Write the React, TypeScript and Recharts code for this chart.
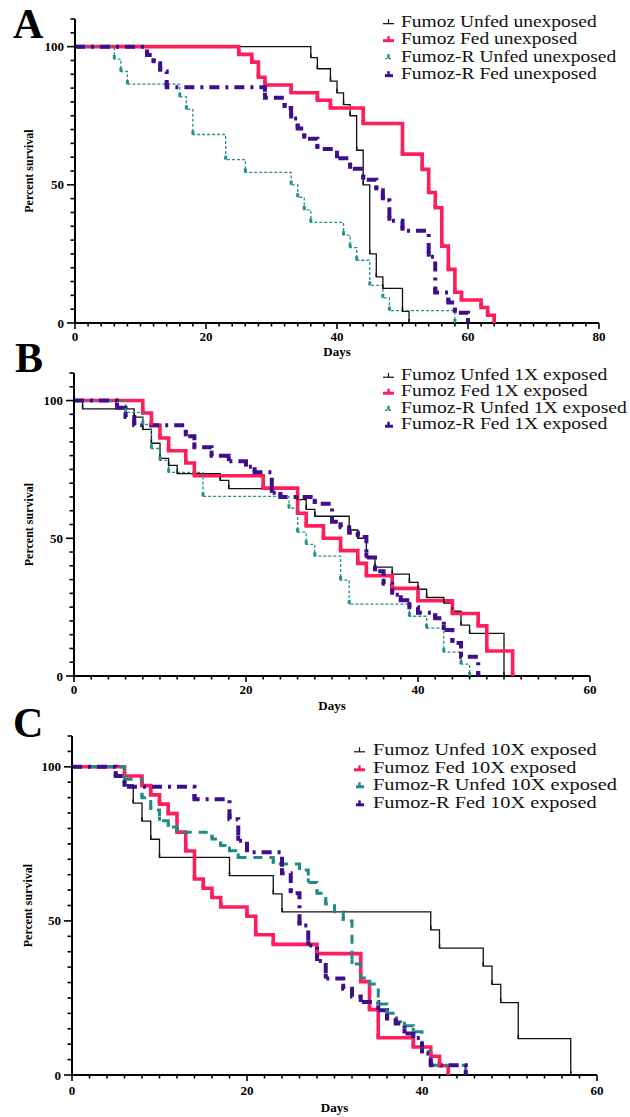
import React from 'react';
import { LineChart, Line, XAxis, YAxis, Legend } from 'recharts';

type Pt = [number, number];

// ---------- Panel A : unexposed (day, percent survival) ----------
const A_FUMOZ_UNFED: Pt[] = [[0,100],[36,96],[37,92],[39,87.5],[40,83.3],[41,79],[42,75],[43,62.5],[44,50],[45,25],[46,16.7],[47,12.5],[50,4.2],[51,0]];
const A_FUMOZ_FED: Pt[] = [[0,100],[25,97.2],[27,94.4],[28,88.9],[29,86.1],[33,83.3],[37,80.6],[39,77.8],[44,72.2],[50,61.1],[53,55.6],[54,47.2],[55,41.7],[56,27.8],[57,19.4],[58,11.1],[59,8.3],[62,5.6],[63,2.8],[64,0]];
const A_FUMOZR_UNFED: Pt[] = [[0,100],[6,95.5],[7,91],[8,86.4],[16,81.8],[17,77.3],[18,68.2],[23,59.1],[26,54.5],[33,50],[34,45.5],[35,40.9],[36,36.4],[41,31.8],[42,27.3],[43,22.7],[45,13.6],[47,9.1],[48,4.5],[58,0]];
const A_FUMOZR_FED: Pt[] = [[0,100],[11,97],[12,94],[13,91],[14,85.3],[29,81.5],[32,77.8],[33,74],[34,70.4],[35,66.7],[37,63],[40,59.6],[42,55.8],[44,51.8],[46,48],[47,44.4],[48,37],[50,33.4],[54,24],[55,11],[57,7.4],[58,3.7],[60,0]];

// ---------- Panel B : 1X exposed ----------
const B_FUMOZ_UNFED: Pt[] = [[0,100],[1,97],[7,94],[8,89.5],[9,84.5],[10,79],[11,76.5],[12,73.5],[17,71],[18,68],[26,64],[27,60.5],[28,58],[32,53],[33,50],[34,43],[35,39.5],[37,37],[39,34],[40,31.5],[41,28.5],[43,26.5],[44,23.5],[45,18.5],[46,15.5],[50,0]];
const B_FUMOZ_FED: Pt[] = [[0,100],[8,95.5],[9,91],[10,86.4],[11,81.8],[13,77.3],[14,72.7],[22,68.2],[26,59.1],[27,54.5],[29,50],[31,45.5],[33,40.9],[34,36.4],[37,31.8],[40,27.3],[44,22.7],[47,18.2],[48,9.1],[51,0]];
const B_FUMOZR_UNFED: Pt[] = [[0,100],[6,95.7],[8,91.3],[9,82.6],[10,78.3],[11,73.9],[15,65.2],[25,60.9],[26,52.2],[27,47.8],[28,43.5],[31,34.8],[32,26.1],[39,21.7],[41,17.4],[43,8.7],[45,4.3],[46,0]];
const B_FUMOZR_FED: Pt[] = [[0,100],[5,97.4],[6,94],[7,91],[13,87],[14,83],[16,80],[18,78],[20,76],[21,74],[23,66.5],[24,65],[28,62.5],[30,56],[31,54],[32,52],[33,50.5],[34,43],[35,38],[36,33.5],[37,29.5],[38,27.5],[39,25],[40,23],[42,21],[43,16.7],[44,12],[45,7],[47,0]];

// ---------- Panel C : 10X exposed ----------
const C_FUMOZ_UNFED: Pt[] = [[0,100],[6,94.1],[7,88.2],[8,82.4],[9,76.5],[10,70.6],[18,64.7],[23,58.8],[24,52.9],[41,47.1],[42,41.2],[47,35.3],[48,29.4],[49,23.5],[51,11.8],[57,0]];
const C_FUMOZ_FED: Pt[] = [[0,100],[6,97],[8,93.9],[9,90.9],[10,87.9],[11,84.8],[12,78.8],[13,72.7],[14,63.6],[15,60.6],[16,57.6],[17,54.5],[20,51.5],[21,45.5],[23,42.4],[28,39.4],[33,30.3],[34,21.2],[35,12.1],[39,9.1],[41,6.1],[42,3],[43,0]];
const C_FUMOZR_UNFED: Pt[] = [[0,100],[6,96],[8,90],[9,86],[10,82.5],[11,80.5],[12,78.8],[16,76.6],[17,74.5],[18,72.8],[19,70.6],[23,68.5],[26,66.5],[27,62.5],[28,59],[29,55.5],[30,53],[31,50],[32,36],[33,31.5],[34,29.5],[35,23],[36,20],[37,17.3],[38,16],[39,14],[40,7.6],[41,3.2],[45,0]];
const C_FUMOZR_FED: Pt[] = [[0,100],[5,97],[6,93.5],[14,89.5],[18,83],[19,76],[20,72.3],[24,65.5],[25,59],[26,48.5],[27,42],[28,37],[29,31.3],[31,28],[32,25.5],[33,23.7],[35,21],[36,18.3],[37,16.7],[38,13.5],[39,12],[40,7],[41,3.2],[45,0]];

// ---------- names / tick labels ----------
const NAMES_A = ['Fumoz Unfed unexposed', 'Fumoz Fed unexposed', 'Fumoz-R Unfed unexposed', 'Fumoz-R Fed unexposed'];
const NAMES_B = ['Fumoz Unfed 1X exposed', 'Fumoz Fed 1X exposed', 'Fumoz-R Unfed 1X exposed', 'Fumoz-R Fed 1X exposed'];
const NAMES_C = ['Fumoz Unfed 10X exposed', 'Fumoz Fed 10X exposed', 'Fumoz-R Unfed 10X exposed', 'Fumoz-R Fed 10X exposed'];
const X_LABELS_A = [0, 20, 40, 60, 80];
const X_LABELS_BC = [0, 20, 40, 60];
const Y_LABELS = [0, 50, 100];
const Y_MAX = 110;

const range = (max: number, step: number) => {
  const out: number[] = [];
  for (let v = 0; v <= max + 1e-9; v += step) out.push(v);
  return out;
};

const SERIF = '"Liberation Serif", "Times New Roman", Times, serif';

interface Style { color: string; width: number; dash?: string; tickW: number; tickH: number; }
const ST_BLACK: Style = { color: '#111111', width: 1.3, tickW: 1.5, tickH: 4 };
const ST_RED: Style = { color: '#ff1d5c', width: 3.6, tickW: 3.6, tickH: 4 };
const ST_TEAL_DOT: Style = { color: '#23908c', width: 1.3, dash: '3 2', tickW: 3, tickH: 4 };
const ST_TEAL_DASH: Style = { color: '#1f8a86', width: 3, dash: '9 7', tickW: 3, tickH: 4 };
const ST_PURPLE: Style = { color: '#3e0e8e', width: 4, dash: '10 6 3 6', tickW: 4, tickH: 5 };

interface SeriesDef { name: string; pts: Pt[]; st: Style; }

interface PanelDef {
  key: string;
  letter: string;
  letterX: number;
  letterY: number;
  top: number;
  height: number;
  marginTop: number;
  marginRight: number;
  yAxisWidth: number;
  xAxisHeight: number;
  xMax: number;
  xLabels: number[];
  tickDy: number;
  titleDy: number;
  yTitleX: number;
  legendLeft: number;
  legendTop: number;
  legendRow: number;
  legendSym: number;
  legendFont: number;
  legendStretch: number;
  series: SeriesDef[];
}

const PANELS: PanelDef[] = [
  {
    key: 'A', letter: 'A', letterX: 13, letterY: 38, top: 0, height: 365, marginTop: 19, marginRight: 31,
    yAxisWidth: 75, xAxisHeight: 42, xMax: 80, xLabels: X_LABELS_A, tickDy: 13, titleDy: 28, yTitleX: 29,
    legendLeft: 382, legendTop: 13, legendRow: 17.3, legendSym: 19, legendFont: 16.8, legendStretch: 1.16,
    series: [
      { name: NAMES_A[0], pts: A_FUMOZ_UNFED, st: ST_BLACK },
      { name: NAMES_A[1], pts: A_FUMOZ_FED, st: ST_RED },
      { name: NAMES_A[2], pts: A_FUMOZR_UNFED, st: ST_TEAL_DOT },
      { name: NAMES_A[3], pts: A_FUMOZR_FED, st: ST_PURPLE },
    ],
  },
  {
    key: 'B', letter: 'B', letterX: 15, letterY: 372, top: 360, height: 360, marginTop: 13, marginRight: 40,
    yAxisWidth: 74, xAxisHeight: 44, xMax: 60, xLabels: X_LABELS_BC, tickDy: 13, titleDy: 29, yTitleX: 29,
    legendLeft: 382, legendTop: 6.5, legendRow: 16.5, legendSym: 19, legendFont: 16.2, legendStretch: 1.21,
    series: [
      { name: NAMES_B[0], pts: B_FUMOZ_UNFED, st: ST_BLACK },
      { name: NAMES_B[1], pts: B_FUMOZ_FED, st: ST_RED },
      { name: NAMES_B[2], pts: B_FUMOZR_UNFED, st: ST_TEAL_DOT },
      { name: NAMES_B[3], pts: B_FUMOZR_FED, st: ST_PURPLE },
    ],
  },
  {
    key: 'C', letter: 'C', letterX: 13, letterY: 737, top: 720, height: 397, marginTop: 16, marginRight: 33,
    yAxisWidth: 72, xAxisHeight: 42, xMax: 60, xLabels: X_LABELS_BC, tickDy: 15, titleDy: 32, yTitleX: 28,
    legendLeft: 353, legendTop: 21, legendRow: 17.6, legendSym: 20, legendFont: 17.2, legendStretch: 1.18,
    series: [
      { name: NAMES_C[0], pts: C_FUMOZ_UNFED, st: ST_BLACK },
      { name: NAMES_C[1], pts: C_FUMOZ_FED, st: ST_RED },
      { name: NAMES_C[2], pts: C_FUMOZR_UNFED, st: ST_TEAL_DASH },
      { name: NAMES_C[3], pts: C_FUMOZR_FED, st: ST_PURPLE },
    ],
  },
];

const toData = (pts: Pt[]) => pts.map(([day, pct]) => ({ day, pct }));

const makeXTick = (labels: number[], dy: number) => (p: any) => {
  const { x, y, payload } = p;
  const v = payload.value;
  const major = labels.indexOf(v) >= 0;
  return (
    <g>
      <line x1={x} x2={x} y1={y} y2={y + (major ? 6 : 3.5)} stroke="#000" strokeWidth={1.6} />
      {major && (
        <text x={x} y={y + dy} textAnchor="middle" dominantBaseline="central" fontFamily={SERIF} fontWeight="bold" fontSize={13} fill="#000">
          {v}
        </text>
      )}
    </g>
  );
};

const YTick = (p: any) => {
  const { x, y, payload } = p;
  const v = payload.value;
  const major = Y_LABELS.indexOf(v) >= 0;
  return (
    <g>
      <line x1={x - (major ? 8 : 4.5)} x2={x} y1={y} y2={y} stroke="#000" strokeWidth={1.6} />
      {major && (
        <text x={x - 11} y={y} textAnchor="end" dominantBaseline="central" fontFamily={SERIF} fontWeight="bold" fontSize={13} fill="#000">
          {v}
        </text>
      )}
    </g>
  );
};

const makeYTitle = (cx: number) => (props: any) => {
  const vb = props && props.viewBox ? props.viewBox : { x: 0, y: 0, width: 0, height: 0 };
  const x = vb.x + cx;
  const y = vb.y + vb.height / 2;
  return (
    <text x={x} y={y} transform={`rotate(-90, ${x}, ${y})`} textAnchor="middle" dominantBaseline="central" fontFamily={SERIF} fontWeight="bold" fontSize={12} fill="#000">
      Percent survival
    </text>
  );
};

const makeXTitle = (dy: number) => (props: any) => {
  const vb = props && props.viewBox ? props.viewBox : { x: 0, y: 0, width: 0, height: 0 };
  const x = vb.x + vb.width / 2;
  const y = vb.y + dy;
  return (
    <text x={x} y={y} textAnchor="middle" dominantBaseline="central" fontFamily={SERIF} fontWeight="bold" fontSize={13} fill="#000">
      Days
    </text>
  );
};

const makeDot = (s: SeriesDef) => (p: any) => {
  const k = `dot-${s.name}-${p.index}`;
  if (p.index === 0 || p.cx == null || p.cy == null) return <g key={k} />;
  return <line key={k} x1={p.cx} x2={p.cx} y1={p.cy} y2={p.cy - s.st.tickH} stroke={s.st.color} strokeWidth={s.st.tickW} />;
};

const LegendSymbol = ({ st, w, h }: { st: Style; w: number; h: number }) => {
  const y = h / 2 + 2;
  let line: React.ReactNode;
  if (st === ST_TEAL_DOT) {
    line = <line x1={3} x2={11} y1={y} y2={y} stroke={st.color} strokeWidth={1.3} strokeDasharray="2 2" />;
  } else if (st.dash) {
    line = <line x1={3} x2={11} y1={y} y2={y} stroke={st.color} strokeWidth={3} />;
  } else {
    line = <line x1={1} x2={12} y1={y} y2={y} stroke={st.color} strokeWidth={st === ST_BLACK ? 1.2 : 3} />;
  }
  return (
    <svg width={w} height={h} style={{ flex: 'none' }}>
      {line}
      <line x1={6.5} x2={6.5} y1={y} y2={y - 4.5} stroke={st.color} strokeWidth={st === ST_BLACK ? 1.2 : 2.5} />
    </svg>
  );
};

const LegendBox = ({ panel }: { panel: PanelDef }) => (
  <div style={{ fontFamily: SERIF, fontSize: panel.legendFont, color: '#111' }}>
    {panel.series.map((s) => (
      <div key={s.name} style={{ display: 'flex', alignItems: 'center', height: panel.legendRow, whiteSpace: 'nowrap', overflow: 'visible' }}>
        <LegendSymbol st={s.st} w={panel.legendSym} h={panel.legendRow} />
        <span
          style={{
            display: 'inline-block',
            height: panel.legendRow,
            lineHeight: `${panel.legendRow}px`,
            transform: `scaleX(${panel.legendStretch})`,
            transformOrigin: 'left center',
          }}
        >
          {s.name}
        </span>
      </div>
    ))}
  </div>
);

const Panel = ({ panel }: { panel: PanelDef }) => (
  <div style={{ position: 'absolute', left: 0, top: panel.top, width: 630, height: panel.height }}>
    <LineChart
      width={630}
      height={panel.height}
      margin={{ top: panel.marginTop, right: panel.marginRight, bottom: 0, left: 0 }}
    >
      <XAxis
        type="number"
        dataKey="day"
        domain={[0, panel.xMax]}
        ticks={range(panel.xMax, 2)}
        interval={0}
        height={panel.xAxisHeight}
        tickSize={0}
        tickMargin={0}
        tickLine={false}
        axisLine={{ stroke: '#000', strokeWidth: 2 }}
        tick={makeXTick(panel.xLabels, panel.tickDy)}
        label={makeXTitle(panel.titleDy)}
        allowDataOverflow
      />
      <YAxis
        type="number"
        dataKey="pct"
        domain={[0, Y_MAX]}
        ticks={range(Y_MAX, 5)}
        interval={0}
        width={panel.yAxisWidth}
        tickSize={0}
        tickMargin={0}
        tickLine={false}
        axisLine={{ stroke: '#000', strokeWidth: 2 }}
        tick={YTick}
        label={makeYTitle(panel.yTitleX)}
        allowDataOverflow
      />
      <Legend
        layout="vertical"
        align="center"
        verticalAlign="middle"
        wrapperStyle={{ position: 'absolute', left: panel.legendLeft, top: panel.legendTop, width: 630 - panel.legendLeft, height: panel.legendRow * 4 }}
        content={() => <LegendBox panel={panel} />}
      />
      {panel.series.map((s) => (
        <Line
          key={s.name}
          name={s.name}
          data={toData(s.pts)}
          dataKey="pct"
          type="stepAfter"
          stroke={s.st.color}
          strokeWidth={s.st.width}
          strokeDasharray={s.st.dash}
          strokeLinecap="butt"
          strokeLinejoin="miter"
          dot={makeDot(s)}
          activeDot={false}
          isAnimationActive={false}
          legendType="none"
        />
      ))}
    </LineChart>
  </div>
);

export default function App() {
  return (
    <div style={{ position: 'absolute', left: 0, top: 0, width: 630, height: 1117, background: '#fff', overflow: 'hidden' }}>
      {PANELS.map((p) => (
        <Panel key={p.key} panel={p} />
      ))}
      <svg width={630} height={1117} style={{ position: 'absolute', left: 0, top: 0, pointerEvents: 'none' }}>
        {PANELS.map((p) => (
          <text key={p.key} x={p.letterX} y={p.letterY} fontFamily={SERIF} fontWeight="bold" fontSize={42} fill="#000">
            {p.letter}
          </text>
        ))}
      </svg>
    </div>
  );
}
